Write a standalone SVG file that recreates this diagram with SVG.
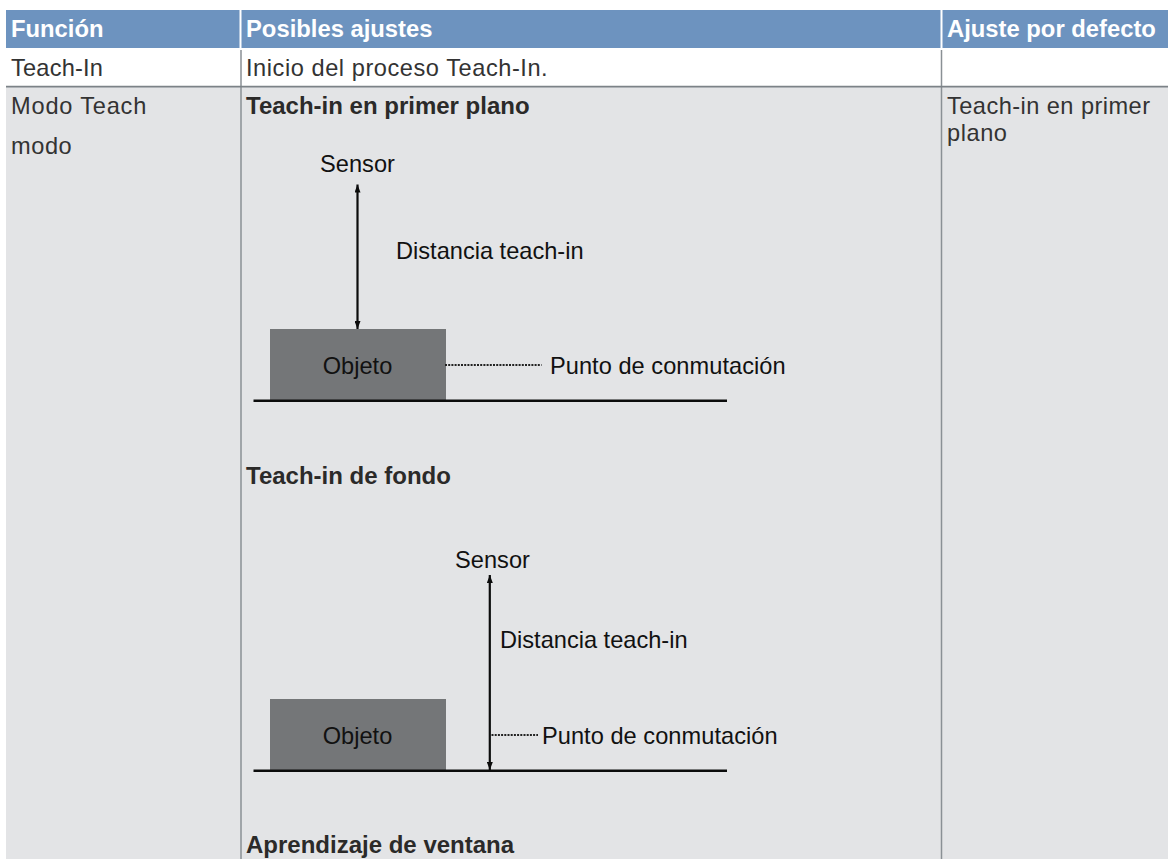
<svg xmlns="http://www.w3.org/2000/svg" width="1168" height="859" viewBox="0 0 1168 859">
<style>
text{font-family:"Liberation Sans",Arial,sans-serif}
.h{font-size:23.800px;font-weight:700;fill:#fff}
.c{font-size:23.600px;fill:#333;letter-spacing:.55px}
.b{font-size:24px;font-weight:700;fill:#2b2a29}
.l{font-size:23.600px;fill:#111}
.k{stroke:#0c0c0c;fill:none}
.d{stroke:#222;stroke-width:2;stroke-dasharray:2 1.200;fill:none}
.o{fill:#747678}
</style>
<defs>
<marker id="a" markerUnits="userSpaceOnUse" markerWidth="8" markerHeight="6" refX="8" refY="3" orient="auto-start-reverse"><path d="M0 0L8 3L0 6Z" fill="#0c0c0c"/></marker>
</defs>
<rect width="1168" height="859" fill="#fff"/>
<g id="table">
<rect x="6" y="10" width="1162" height="38" fill="#6d93bf"/>
<rect x="6" y="87" width="1162" height="772" fill="#e3e4e6"/>
<path d="M240.500 10V48M941.500 10V48" stroke="#fff" stroke-width="2"/>
<path d="M241 50V859M941.500 50V859" stroke="#8a9095" stroke-width="1.500"/>
<path d="M6 86.700H1168" stroke="#7c8287" stroke-width="1.800"/>
<text class="h" x="11" y="36.500">Función</text>
<text class="h" x="246" y="36.500">Posibles ajustes</text>
<text class="h" x="947" y="36.500">Ajuste por defecto</text>
<text class="c" x="11" y="76" style="letter-spacing:.2px">Teach-In</text>
<text class="c" x="246" y="76">Inicio del proceso Teach-In.</text>
<text class="c" x="11" y="114" style="letter-spacing:.8px">Modo Teach</text>
<text class="c" x="11" y="154">modo</text>
<text class="c" x="947" y="114" style="letter-spacing:.45px">Teach-in en primer</text>
<text class="c" x="947" y="141">plano</text>
<text class="b" x="246" y="113.500">Teach-in en primer plano</text>
<text class="b" x="246" y="483.500">Teach-in de fondo</text>
<text class="b" x="246" y="853">Aprendizaje de ventana</text>
</g>
<g id="objeto1"><rect class="o" x="270" y="329" width="176" height="71"/><text class="l" x="357.500" y="374" text-anchor="middle">Objeto</text></g>
<g id="objeto2"><rect class="o" x="270" y="699" width="176" height="71"/><text class="l" x="357.500" y="743.500" text-anchor="middle">Objeto</text></g>
<g id="labels">
<text class="l" x="357.500" y="172" text-anchor="middle">Sensor</text>
<text class="l" x="396" y="259">Distancia teach-in</text>
<text class="l" x="550" y="374" style="letter-spacing:.04px">Punto de conmutación</text>
<text class="l" x="492.500" y="568" text-anchor="middle">Sensor</text>
<text class="l" x="500" y="648">Distancia teach-in</text>
<text class="l" x="542" y="743.500" style="letter-spacing:.04px">Punto de conmutación</text>
</g>
<g id="connectors">
<path class="k" stroke-width="2.200" d="M357.500 184.500V329" marker-start="url(#a)" marker-end="url(#a)"/>
<path class="k" stroke-width="2.200" d="M489.800 575V770" marker-start="url(#a)" marker-end="url(#a)"/>
<path class="k" stroke-width="2.500" d="M253.500 400.700H727M253.500 770.700H727"/>
<path class="d" d="M445 365H541.500M491.500 735H538"/>
</g>
</svg>
